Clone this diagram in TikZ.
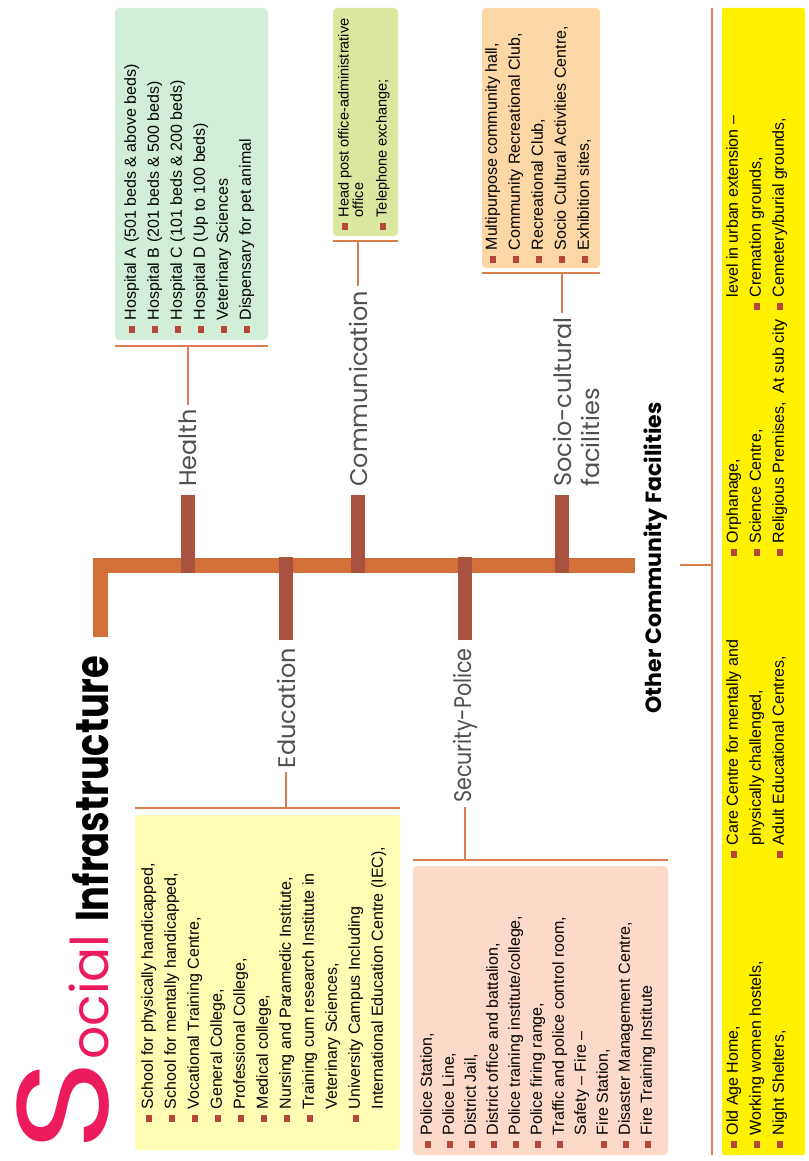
\documentclass[tikz,border=0pt]{standalone}
\usepackage{fontspec}
\usepackage{graphicx}
\setmainfont{Liberation Sans}
\newfontfamily\gothic{Poppins}

\definecolor{spineorange}{HTML}{D2703A}
\definecolor{tickbrown}{HTML}{A8523F}
\definecolor{linkorange}{HTML}{DB7D4F}
\definecolor{bulletred}{HTML}{B5473A}
\definecolor{lblgray}{HTML}{505050}
\definecolor{titlepink}{HTML}{EC1B5C}
\definecolor{healthgreen}{HTML}{D3EED8}
\definecolor{commgreen}{HTML}{D9E89E}
\definecolor{sociopeach}{HTML}{FDD7A6}
\definecolor{eduyellow}{HTML}{FFFDB3}
\definecolor{secpink}{HTML}{FDD9C9}
\definecolor{otheryellow}{HTML}{FFF100}

\newcommand{\bul}{{\color{bulletred}\rule[0.5pt]{6.5pt}{6.5pt}}\hspace{6pt}}
\newcommand{\subind}{\hspace*{12.5pt}}

\begin{document}
\begin{tikzpicture}[x=1pt, y=-1pt,
    box/.style={rounded corners=4pt, inner sep=0pt},
    items/.style={rotate=90, anchor=north west, inner sep=0pt, align=left, font=\fontsize{16}{23}\selectfont},
    lbl/.style={rotate=90, inner sep=4pt, text=lblgray, font=\gothic\fontsize{24}{28}\selectfont},
    spine/.style={line width=15pt, spineorange},
    tick/.style={line width=14pt, tickbrown, shorten <=4pt, shorten >=-8pt},
    link/.style={line width=2.5pt, linkorange}
]
    \useasboundingbox (0,0) rectangle (808,1161);

    % title
    \node[rotate=90, anchor=base west, inner sep=0pt, text=titlepink, font=\gothic\fontsize{130}{130}\selectfont] (capS) at (108,1152) {\scalebox{1.2}[1]{S}};
    \node[rotate=90, anchor=base west, inner sep=0pt, text=titlepink, font=\gothic\fontsize{52}{52}\selectfont] (ocial) at (capS.base east) {ocial};
    \node[rotate=90, anchor=base west, inner sep=0pt, font=\gothic\bfseries\fontsize{46}{46}\selectfont] (infra) at ([yshift=12pt]ocial.base east) {\scalebox{0.8}[1]{Infrastructure}};

    % boxes
    \node[box, fill=healthgreen, minimum width=153pt, minimum height=332pt] (healthbox) at (191.5,174) {};
    \node[box, fill=commgreen, minimum width=65pt, minimum height=228pt] (commbox) at (365.5,122) {};
    \node[box, fill=sociopeach, minimum width=118pt, minimum height=260pt] (sociobox) at (541,138) {};
    \node[box, fill=eduyellow, minimum width=265pt, minimum height=335pt] (edubox) at (267.5,982.5) {};
    \node[box, fill=secpink, minimum width=255pt, minimum height=289pt] (secbox) at (540.5,1010.5) {};
    \node[box, rounded corners=2pt, fill=otheryellow, minimum width=83pt, minimum height=1147pt] (otherbox) at (763.5,581.5) {};

    \node[items] (healthtxt) at (124,333) {\bul Hospital A (501 beds \& above beds)\\
        \bul Hospital B (201 beds \& 500 beds)\\
        \bul Hospital C (101 beds \& 200 beds)\\
        \bul Hospital D (Up to 100 beds)\\
        \bul Veterinary Sciences\\
        \bul Dispensary for pet animal};
    \node[items, font=\fontsize{14.5}{14.5}\selectfont] (commtxt) at (338,230) {\bul Head post office-administrative\\
        \subind office\\[9pt]
        \bul Telephone exchange;};
    \node[items] (sociotxt) at (485,263) {\bul Multipurpose community hall,\\
        \bul Community Recreational Club,\\
        \bul Recreational Club,\\
        \bul Socio Cultural Activities Centre,\\
        \bul Exhibition sites,};
    \node[items] (edutxt) at (141,1122) {\bul School for physically handicapped,\\
        \bul School for mentally handicapped,\\
        \bul Vocational Training Centre,\\
        \bul General College,\\
        \bul Professional College,\\
        \bul Medical college,\\
        \bul Nursing and Paramedic Institute,\\
        \bul Training cum research Institute in\\
        \subind Veterinary Sciences,\\
        \bul University Campus Including\\
        \subind International Education Centre (IEC),};
    \node[items, font=\fontsize{16}{22}\selectfont] (sectxt) at (420,1148) {\bul Police Station,\\
        \bul Police Line,\\
        \bul District Jail,\\
        \bul District office and battalion,\\
        \bul Police training institute/college,\\
        \bul Police firing range,\\
        \bul Traffic and police control room,\\
        \subind Safety -- Fire --\\
        \bul Fire Station,\\
        \bul Disaster Management Centre,\\
        \bul Fire Training Institute};

    % other community facilities
    \node[items] (othertxtA) at (726,1148) {\bul Old Age Home,\\
        \bul Working women hostels,\\
        \bul Night Shelters,};
    \node[items] (othertxtB) at (726,858) {\bul Care Centre for mentally and\\
        \subind physically challenged,\\
        \bul Adult Educational Centres,};
    \node[items] (othertxtC) at (726,556) {\bul Orphanage,\\
        \bul Science Centre,\\
        \bul Religious Premises,\ \ At sub city};
    \node[items] (othertxtD) at (726,310) {\subind level in urban extension --\\
        \bul Cremation grounds,\\
        \bul Cemetery/burial grounds,};

    % labels
    \node[lbl, anchor=west] (healthlbl) at (188,491) {Health};
    \node[lbl, anchor=west] (commlbl) at (358,491) {Communication};
    \node[lbl, anchor=north west, align=left] (sociolbl) at (549,491) {Socio-cultural\\facilities};
    \coordinate (sociox) at (562,491);
    \node[lbl, anchor=east] (edulbl) at (286,644) {Education};
    \node[lbl, anchor=east] (seclbl) at (465,644) {\scalebox{0.86}[1]{Security-Police}};
    \node[rotate=90, inner sep=4pt, font=\gothic\bfseries\fontsize{22}{26}\selectfont] (otherlbl) at (656,558) {Other Community Facilities};

    % spine and ticks
    \coordinate (spineL) at (100.5,637);
    \coordinate (spineC) at (100.5,565);
    \coordinate (spineR) at (635,565);
    \draw[spine] (spineL) -- (spineC) -- (spineR);
    \draw[tick] (healthlbl.west) -- (healthlbl.west |- spineR);
    \draw[tick] (commlbl.west) -- (commlbl.west |- spineR);
    \draw[tick] (sociox) -- (sociox |- spineR);
    \draw[tick] (edulbl.east) -- (edulbl.east |- spineR);
    \draw[tick] (seclbl.east) -- (seclbl.east |- spineR);

    % brackets
    \coordinate (healthbr) at ([yshift=-6pt]healthbox.south);
    \coordinate (commbr) at ([yshift=-5pt]commbox.south);
    \coordinate (sociobr) at ([yshift=-5pt]sociobox.south);
    \coordinate (edubr) at ([yshift=7pt]edubox.north);
    \coordinate (secbr) at ([yshift=6pt]secbox.north);
    \coordinate (otherbr) at ([xshift=-10pt]otherbox.west);
    \draw[link] ([yshift=-6pt]healthbox.south west) -- ([yshift=-6pt]healthbox.south east);
    \draw[link] ([yshift=-5pt]commbox.south west) -- ([yshift=-5pt]commbox.south east);
    \draw[link] ([yshift=-5pt]sociobox.south west) -- ([yshift=-5pt]sociobox.south east);
    \draw[link] ([yshift=7pt]edubox.north west) -- ([yshift=7pt]edubox.north east);
    \draw[link] ([yshift=6pt]secbox.north west) -- ([yshift=6pt]secbox.north east);
    \draw[link] ([xshift=-10pt]otherbox.north west) -- ([xshift=-10pt]otherbox.south west);

    \draw[link] (healthlbl.east) -- (healthlbl.east |- healthbr);
    \draw[link] (commlbl.east) -- (commlbl.east |- commbr);
    \draw[link] (sociox |- sociolbl.east) -- (sociox |- sociobr);
    \draw[link] (edulbl.west) -- (edulbl.west |- edubr);
    \draw[link] (seclbl.west) -- (seclbl.west |- secbr);
    \draw[link, shorten <=8pt] (otherlbl.south |- spineR) -- (otherbr |- spineR);
\end{tikzpicture}
\end{document}
